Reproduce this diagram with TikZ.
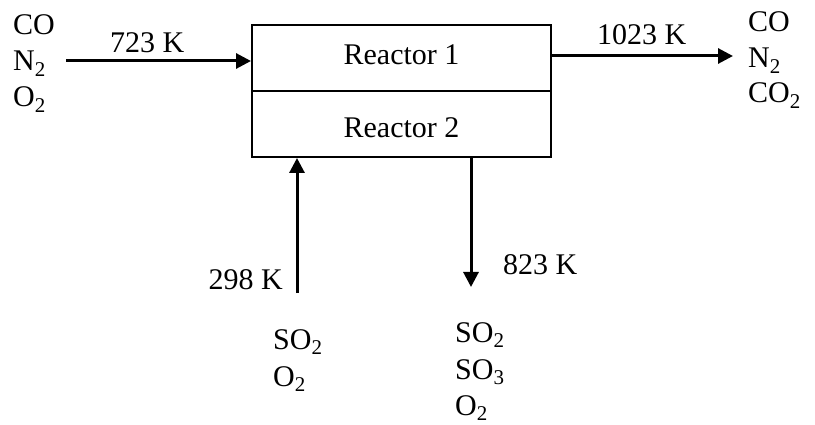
\documentclass[tikz,border=0pt]{standalone}
\usepackage{fontspec}
\setmainfont{Liberation Serif}
\usetikzlibrary{positioning, arrows.meta, calc}

\begin{document}
\begin{tikzpicture}[x=1pt, y=-1pt,
        every node/.style={font=\fontsize{30}{36}\selectfont},
        lbl/.style={inner sep=0pt, anchor=base west},
        reac/.style={draw, line width=2pt, minimum width=299pt, inner sep=0pt},
        flow/.style={line width=3pt, -{Triangle[length=15pt, width=15pt]}}]
      \useasboundingbox (0,0) rectangle (815,425);
      % reactor box
      \node[reac, minimum height=66pt, text depth=6pt] (r1) at (401.5,58) {Reactor 1};
      \node[reac, minimum height=66pt, text height=28pt, text depth=0pt] (r2) at (401.5,124) {Reactor 2};
      % free ends of the streams
      \coordinate (in1) at (66,61);
      \coordinate (out1) at (733,56);
      \coordinate (in2) at (297,293);
      \coordinate (out2) at (471,287);
      \draw[flow] (in1) -- (in1 -| r1.west);
      \draw[flow] (out1 -| r1.east) -- (out1);
      \draw[flow] (in2) -- (in2 |- r2.south);
      \draw[flow] (out2 |- r2.south) -- (out2);
      % temperatures
      \node[lbl] (t1) at (110,53) {723 K};
      \node[lbl] (t2) at (597,45) {1023 K};
      \node[lbl, anchor=base east] (t3) at (283,290) {298 K};
      \node[lbl] (t4) at (503,275) {823 K};
      % feed gas
      \node[lbl] (a1) at (13,35) {CO};
      \node[lbl] (a2) at (13,71) {N\textsubscript{2}};
      \node[lbl] (a3) at (13,107) {O\textsubscript{2}};
      % product gas
      \node[lbl] (b1) at (748,32) {CO};
      \node[lbl] (b2) at (748,68) {N\textsubscript{2}};
      \node[lbl] (b3) at (748,103) {CO\textsubscript{2}};
      % air to reactor 2
      \node[lbl] (c1) at (273,349) {SO\textsubscript{2}};
      \node[lbl] (c2) at (273,386) {O\textsubscript{2}};
      % reactor 2 product
      \node[lbl] (d1) at (455,342) {SO\textsubscript{2}};
      \node[lbl] (d2) at (455,379) {SO\textsubscript{3}};
      \node[lbl] (d3) at (455,415) {O\textsubscript{2}};
    \end{tikzpicture}
\end{document}
